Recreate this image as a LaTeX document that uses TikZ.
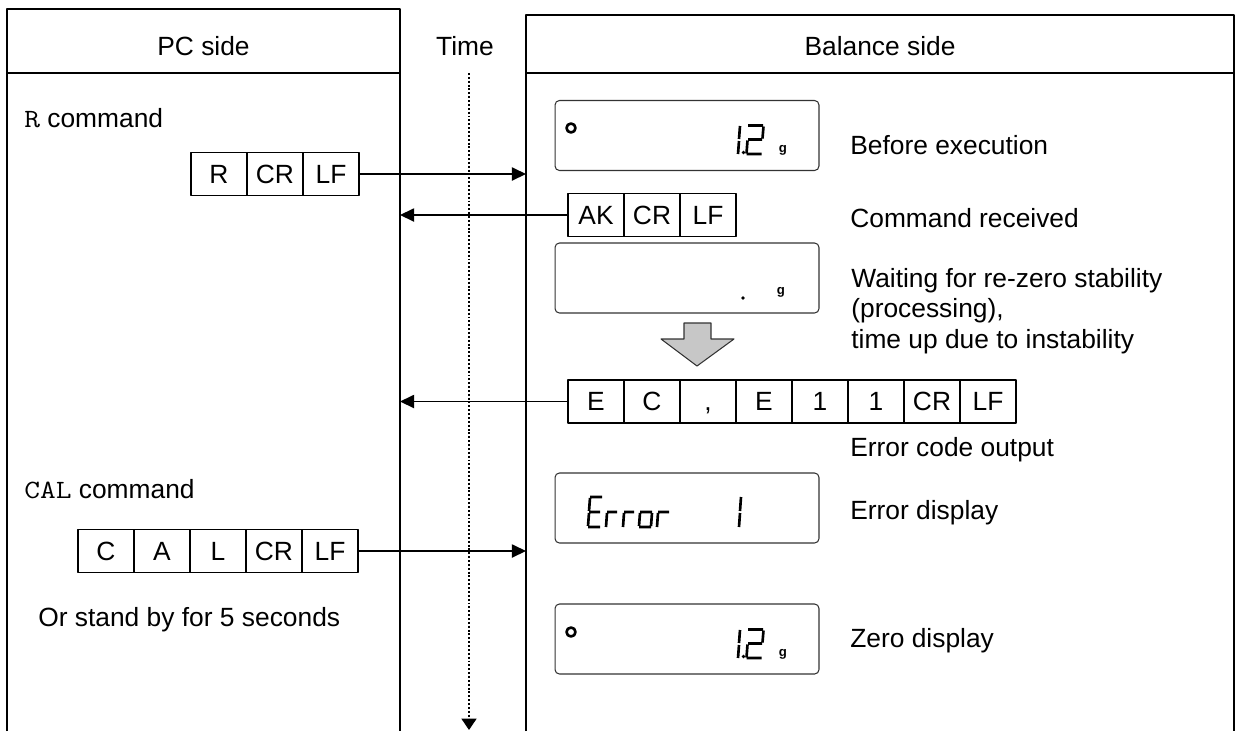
\documentclass[tikz,border=0pt]{standalone}
\usepackage{fontspec}
\usepackage{graphicx}
\setmainfont{Liberation Sans}
\usetikzlibrary{arrows.meta,positioning}
\newcommand{\cmdname}[1]{\scalebox{1.16}[1]{\ttfamily #1}}

\begin{document}
\begin{tikzpicture}[x=0.02cm,y=-0.02cm,line join=round,
  font=\fontsize{15}{17.3}\selectfont,
  frame/.style={line width=0.9pt},
  hdr/.style={inner sep=0pt,text height=10.7pt,text depth=0pt},
  cell/.style={draw,line width=0.7pt,minimum width=1.12cm,minimum height=0.86cm,
    inner sep=0pt,outer sep=0pt,text height=10.7pt,text depth=0pt},
  lcd/.style={draw=black!80,line width=0.6pt,rounded corners=2.5pt,
    minimum width=5.28cm,minimum height=1.4cm,inner sep=0pt},
  note/.style={anchor=west,inner sep=0pt,text height=10.7pt,text depth=0pt},
  msg/.style={line width=0.8pt,-{Triangle[length=8pt,width=7.5pt]}},
  seg/.style={line width=1.5pt},
  gram/.style={font=\fontsize{7.5}{7.5}\selectfont\bfseries,inner sep=0pt}]
  \useasboundingbox (0,0) rectangle (1241,731);

  \draw[frame] (7,731) |- (400,9) -- (400,731);
  \draw[frame] (7,73) -- (400,73);
  \draw[frame] (526,731) |- (1234,15) -- (1234,731);
  \draw[frame] (526,73) -- (1234,73);
  \coordinate (pcR) at (400,0);
  \coordinate (balL) at (526,0);

  \node[hdr] (pcHead) at (203.5,46) {PC side};
  \node[hdr] (balHead) at (880,46) {Balance side};
  \node[hdr] (time) at (465,46) {Time};
  \coordinate (tTop) at (469,73);
  \coordinate (tEnd) at (469,730);
  \draw[line width=1.1pt,dash pattern=on 1.1pt off 1.1pt,
    -{Triangle[length=6.5pt,width=8.5pt]}] (tTop) -- (tEnd);

  \node[note] (rCmd) at (24,118) {\cmdname{R} command};
  \node[note] (calCmd) at (24,489) {\cmdname{CAL} command};
  \node[note] (standBy) at (38,617) {Or stand by for 5 seconds};

  \foreach \t [count=\i] in {R,CR,LF}
    \node[cell] (r\i) at ({163+56*\i},174) {\t};
  \foreach \t [count=\i] in {AK,CR,LF}
    \node[cell] (a\i) at ({540+56*\i},215) {\t};
  \foreach \t [count=\i] in {E,C,{,},E,1,1,CR,LF}
    \node[cell] (e\i) at ({540+56*\i},401.5) {\t};
  \foreach \t [count=\i] in {C,A,L,CR,LF}
    \node[cell] (c\i) at ({50+56*\i},551) {\t};

  \draw[msg] (r3.east) -- (r3.east -| balL);
  \draw[msg] (a1.west) -- (a1.west -| pcR);
  \draw[msg] (e1.west) -- (e1.west -| pcR);
  \draw[msg] (c5.east) -- (c5.east -| balL);

  \node[lcd] (disp1) at (687,135.5) {};
  \node[lcd] (disp2) at (687,278) {};
  \node[lcd] (disp3) at (687,508) {};
  \node[lcd] (disp4) at (687,639) {};

  \foreach \dy/\nm in {0/gA,504/gB} {
    \begin{scope}[shift={(0,\dy)}]
      \draw[line width=1.5pt] (571,128) circle (4.5);
      \draw[seg] (740,126) -- (739,139) (739,141) -- (738,154);
      \fill (743.5,152.5) circle (1.8);
      \draw[seg] (748,125.5) -- (763,125.5) (763.5,126.5) -- (762.5,138.5)
        (748,139.5) -- (762,139.5) (747.5,140.5) -- (746.5,153.5)
        (746.5,154) -- (761.5,154);
      \node[gram] (\nm) at (783,150) {g};
    \end{scope}
  }
  \fill (743,298) circle (1.8);
  \node[gram] (gC) at (781,292) {g};

  \draw[seg] (590,497) -- (602,497) (590,498) -- (589,511) (589,512) -- (600,512)
    (589,513) -- (588,526) (588,527) -- (600,527);
  \draw[seg] (607,513) -- (606,527) (607,512) -- (617,512);
  \draw[seg] (624,513) -- (623,527) (624,512) -- (634,512);
  \draw[seg] (640,512) -- (652,512) (640,513) -- (639,526) (652,513) -- (651,526)
    (639,527) -- (651,527);
  \draw[seg] (658,513) -- (657,527) (658,512) -- (669,512);
  \draw[seg] (741,497) -- (740,511) (740,513) -- (739,527);

  \draw[draw=black!80,line width=0.6pt,fill=black!22] (684,323) -- (711,323) -- (711,339)
    -- (734,339) -- (697,366) -- (661,339) -- (684,339) -- cycle;

  \node[note] (n1) at (850,145) {Before execution};
  \node[note] (n2) at (850,218) {Command received};
  \node[anchor=north west,inner sep=0pt,align=left] (n3) at (851,268)
    {Waiting for re-zero stability\\(processing),\\time up due to instability};
  \node[note] (n4) at (850,447) {Error code output};
  \node[note] (n5) at (850,510) {Error display};
  \node[note] (n6) at (850,638) {Zero display};
\end{tikzpicture}
\end{document}
